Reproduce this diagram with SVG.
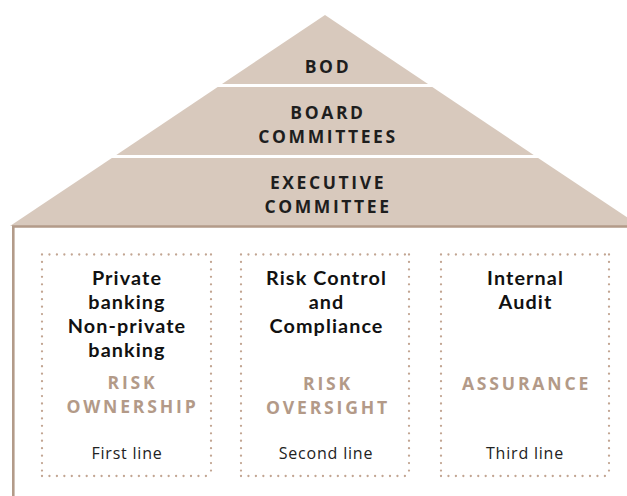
<svg xmlns="http://www.w3.org/2000/svg" width="627" height="496" viewBox="0 0 627 496">
<style>
.tier{fill:#d8c9bd}
.ptxt{font-family:"Open Sans","Noto Sans",sans-serif;font-weight:700;font-size:17.5px;letter-spacing:2.6px;fill:#1e1e1e;text-anchor:middle}
.title{font-family:Lato,"Open Sans",sans-serif;font-weight:700;font-size:19.8px;letter-spacing:1.1px;fill:#111;text-anchor:middle}
.role{font-family:"Open Sans","Noto Sans",sans-serif;font-weight:700;font-size:17.6px;letter-spacing:2.8px;fill:#b39a88;text-anchor:middle}
.line{font-family:"Open Sans","Noto Sans",sans-serif;font-size:16px;letter-spacing:0.8px;fill:#222;text-anchor:middle}
.dot{stroke:#c2a592;stroke-width:2.3;stroke-linecap:round;stroke-dasharray:0 7.45;fill:none}
.frame{stroke:#b39b89;stroke-width:2.6;fill:none}
</style>
<rect width="627" height="496" fill="#fff"/>
<g id="bod">
<polygon class="tier" points="325,15 428,84 222,84"/>
<text class="ptxt" x="328" y="73">BOD</text>
</g>
<g id="board-committees">
<polygon class="tier" points="217.7,87 432.3,87 533.7,155 116.3,155"/>
<text class="ptxt" y="119"><tspan x="328">BOARD</tspan><tspan x="328" dy="24">COMMITTEES</tspan></text>
</g>
<g id="executive-committee">
<polygon class="tier" points="111.9,158 538.1,158 640,226 10,226"/>
<text class="ptxt" y="189"><tspan x="328">EXECUTIVE</tspan><tspan x="328" dy="24">COMMITTEE</tspan></text>
</g>
<g id="frame">
<path class="frame" d="M13.3,497 V226.5 H640"/>
</g>
<g id="first-line">
<path class="dot" d="M42,254.5 H211 M42,476 H211 M42,254.5 V476 M211,254.5 V476"/>
<text class="title" y="285"><tspan x="127">Private</tspan><tspan x="127" dy="24">banking</tspan><tspan x="127" dy="24">Non-private</tspan><tspan x="127" dy="24">banking</tspan></text>
<text class="role" y="389"><tspan x="132.5">RISK</tspan><tspan x="132.5" dy="24">OWNERSHIP</tspan></text>
<text class="line" x="127" y="459">First line</text>
</g>
<g id="second-line">
<path class="dot" d="M241,254.5 H409 M241,476 H409 M241,254.5 V476 M409,254.5 V476"/>
<text class="title" y="285"><tspan x="326.5">Risk Control</tspan><tspan x="326.5" dy="24">and</tspan><tspan x="326.5" dy="24">Compliance</tspan></text>
<text class="role" y="390"><tspan x="328">RISK</tspan><tspan x="328" dy="24">OVERSIGHT</tspan></text>
<text class="line" x="326" y="459">Second line</text>
</g>
<g id="third-line">
<path class="dot" d="M441,254.5 H609 M441,476 H609 M441,254.5 V476 M609,254.5 V476"/>
<text class="title" y="285"><tspan x="525.5">Internal</tspan><tspan x="525.5" dy="24">Audit</tspan></text>
<text class="role" x="526.5" y="390">ASSURANCE</text>
<text class="line" x="525" y="459">Third line</text>
</g>
<g id="connectors"/>
</svg>
